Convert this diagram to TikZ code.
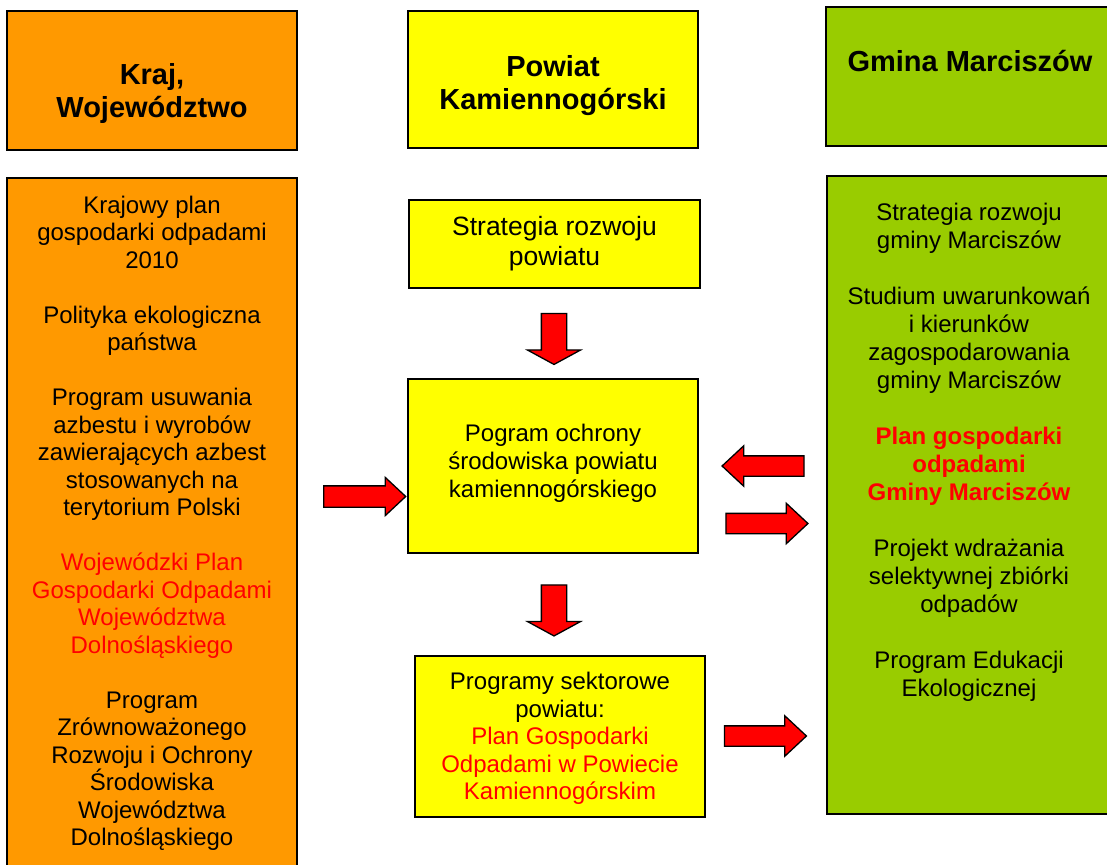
\documentclass[tikz,border=0pt]{standalone}
\usepackage{fontspec}
\setmainfont{Liberation Sans}
\usetikzlibrary{shapes.arrows}
\definecolor{pomarancz}{HTML}{FF9900}
\definecolor{zolty}{HTML}{FFFF00}
\definecolor{zielony}{HTML}{99CC00}
\begin{document}
\begin{tikzpicture}[x=1pt,y=-1pt,
  box/.style={draw=black,line width=1.8pt,rectangle,anchor=north west,inner sep=0pt,outer sep=0pt},
  opis/.style={align=center,inner sep=0pt,anchor=north,font=\fontsize{24}{27.5}\selectfont},
  naglowek/.style={align=center,inner sep=0pt,anchor=north,font=\fontsize{29}{33}\selectfont\bfseries},
  strzalka/.style={single arrow,draw=black,fill=red,line width=1.3pt,inner xsep=0pt,inner ysep=9.5pt,
    single arrow head indent=0pt,minimum height=82pt,
    single arrow head extend=10pt,single arrow tip angle=86},
  wdol/.style={strzalka,rotate=-90,minimum height=51pt,inner ysep=12pt,
    single arrow head extend=14pt,single arrow tip angle=123}]
\useasboundingbox (0,0) rectangle (1107,864);
\clip (0,0) rectangle (1107,864);
% naglowki
\node[box,fill=pomarancz,minimum width=290pt,minimum height=139pt] (kraj) at (7,11) {};
\node[box,fill=zolty,minimum width=290pt,minimum height=137pt] (powiat) at (408,11) {};
\node[box,fill=zielony,minimum width=292pt,minimum height=139pt] (gmina) at (826,7) {};
\node[naglowek] (krajtxt) at (152,63) {Kraj,\\Województwo};
\node[naglowek] (powiattxt) at (553,55) {Powiat\\Kamiennogórski};
\node[naglowek] (gminatxt) at (970,50) {Gmina Marciszów};
% kolumny
\node[box,fill=pomarancz,minimum width=290pt,minimum height=700pt] (lewy) at (7,178) {};
\node[box,fill=zielony,minimum width=292pt,minimum height=638pt] (prawy) at (827,176) {};
\node[opis] (lewytxt) at (152,195.5) {Krajowy plan\\gospodarki odpadami\\2010\\[27.5pt]
  Polityka ekologiczna\\państwa\\[27.5pt]
  Program usuwania\\azbestu i wyrobów\\zawierających azbest\\stosowanych na\\terytorium Polski\\[27.5pt]
  \textcolor{red}{Wojewódzki Plan}\\\textcolor{red}{Gospodarki Odpadami}\\
  \textcolor{red}{Województwa}\\\textcolor{red}{Dolnośląskiego}\\[27.5pt]
  Program\\Zrównoważonego\\Rozwoju i Ochrony\\Środowiska\\Województwa\\Dolnośląskiego};
\node[opis,font=\fontsize{24}{28}\selectfont] (prawytxt) at (969,202.5) {Strategia rozwoju\\gminy Marciszów\\[28pt]
  Studium uwarunkowań\\i kierunków\\zagospodarowania\\gminy Marciszów\\[28pt]
  \textbf{\textcolor{red}{Plan gospodarki}}\\\textbf{\textcolor{red}{odpadami}}\\
  \textbf{\textcolor{red}{Gminy Marciszów}}\\[28pt]
  Projekt wdrażania\\selektywnej zbiórki\\odpadów\\[28pt]
  Program Edukacji\\Ekologicznej};
% srodek
\node[box,fill=zolty,minimum width=291pt,minimum height=88pt,align=center,
  font=\fontsize{26.5}{30}\selectfont] (strategia) at (409,200) {Strategia rozwoju\\powiatu};
\node[box,fill=zolty,minimum width=290pt,minimum height=174pt] (ochrona) at (408,379) {};
\node[opis,font=\fontsize{24}{28}\selectfont] (ochronatxt) at (553,424) {Pogram ochrony\\środowiska powiatu\\kamiennogórskiego};
\node[box,fill=zolty,minimum width=290pt,minimum height=161pt] (sektor) at (415,656) {};
\node[opis] (sektortxt) at (560,672) {Programy sektorowe\\powiatu:\\
  \textcolor{red}{Plan Gospodarki}\\\textcolor{red}{Odpadami w Powiecie}\\\textcolor{red}{Kamiennogórskim}};
% strzalki
\node[wdol] (s1) at (554,335.5) {};
\node[wdol] (s2) at (554,607) {};
\node[strzalka,inner ysep=10pt,single arrow head extend=8.5pt] (s3) at (359,496.5) {};
\node[strzalka,rotate=180] (s4) at (768.5,466) {};
\node[strzalka] (s5) at (761.5,523.5) {};
\node[strzalka] (s6) at (760,736) {};
\end{tikzpicture}
\end{document}
